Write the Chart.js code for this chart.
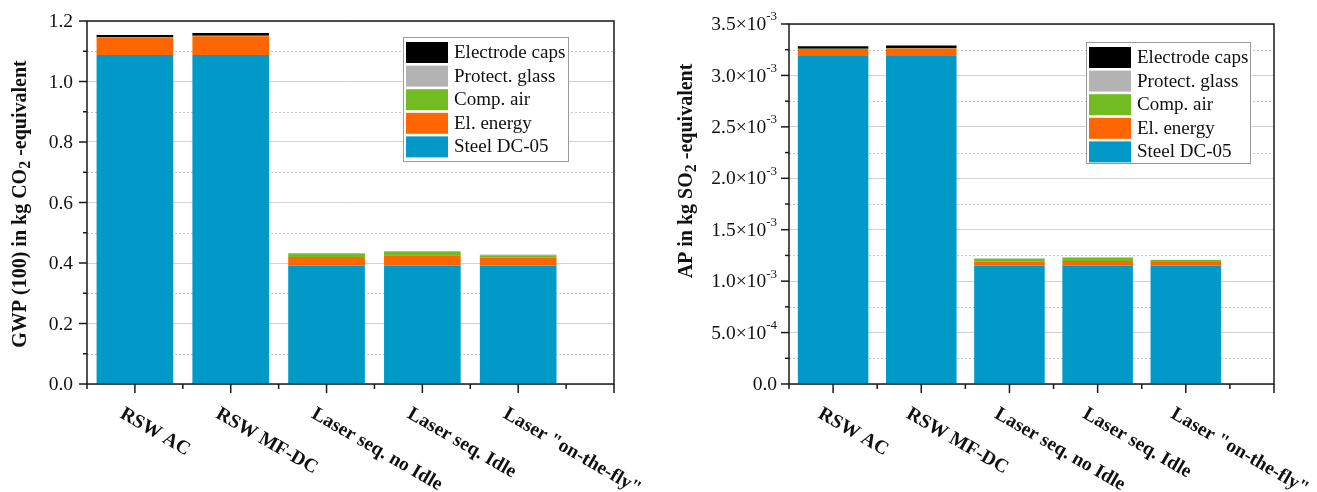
<!DOCTYPE html>
<html>
<head>
<meta charset="utf-8">
<script src="https://cdn.jsdelivr.net/npm/chart.js@4.4.1/dist/chart.umd.min.js"></script>
<style>
  html, body { margin: 0; padding: 0; background: #fff; }
  #wrap { position: relative; width: 1317px; height: 492px; overflow: hidden; }
  .box { position: absolute; top: 0; height: 492px; }
  #gwpBox { left: 0; width: 657px; }
  #apBox { left: 657px; width: 660px; }
</style>
</head>
<body>
<div id="wrap">
  <div class="box" id="gwpBox"><canvas id="gwpChart"></canvas></div>
  <div class="box" id="apBox"><canvas id="apChart"></canvas></div>
</div>
<script>
// --- data ---
const categories = ['RSW AC', 'RSW MF-DC', 'Laser seq. no Idle', 'Laser seq. Idle', 'Laser "on-the-fly"'];
const seriesLabels = ['Steel DC-05', 'El. energy', 'Comp. air', 'Protect. glass', 'Electrode caps'];
const seriesColors = ['#0099C8', '#FF6600', '#72BC22', '#B3B3B3', '#000000'];

// GWP (100) in kg CO2-equivalent
const gwpSteel  = [1.088, 1.088, 0.391, 0.391, 0.391];
const gwpEnergy = [0.057, 0.062, 0.029, 0.035, 0.026];
const gwpAir    = [0.001, 0.001, 0.011, 0.012, 0.009];
const gwpGlass  = [0, 0, 0.002, 0.002, 0.002];
const gwpCaps   = [0.008, 0.009, 0, 0, 0];
const gwpTicks = [0, 0.2, 0.4, 0.6, 0.8, 1.0, 1.2];
const gwpTickLabels = ['0.0', '0.2', '0.4', '0.6', '0.8', '1.0', '1.2'];

// AP in kg SO2-equivalent
const apSteel  = [3.19e-3, 3.19e-3, 1.15e-3, 1.15e-3, 1.15e-3];
const apEnergy = [0.068e-3, 0.073e-3, 0.038e-3, 0.045e-3, 0.035e-3];
const apAir    = [0.001e-3, 0.001e-3, 0.030e-3, 0.033e-3, 0.020e-3];
const apGlass  = [0, 0, 0.004e-3, 0.004e-3, 0.004e-3];
const apCaps   = [0.024e-3, 0.028e-3, 0, 0, 0];
const apTicks = [0, 0.5e-3, 1.0e-3, 1.5e-3, 2.0e-3, 2.5e-3, 3.0e-3, 3.5e-3];
const apTickBase = ['0.0', '5.0×10', '1.0×10', '1.5×10', '2.0×10', '2.5×10', '3.0×10', '3.5×10'];
const apTickExp  = ['', '-4', '-3', '-3', '-3', '-3', '-3', '-3'];

const SERIF = '"Liberation Serif", "Times New Roman", serif';

// draws frame, tick marks, tick labels, x labels, axis title and the boxed legend
const panelPlugin = {
    id: 'panel',
    beforeDatasetsDraw(chart, args, opts) {
        const { ctx, chartArea: a, scales: { y } } = chart;
        ctx.save();
        ctx.strokeStyle = '#c4c4c4';
        ctx.lineWidth = 1;
        ctx.setLineDash([2, 2]);
        minorValues(opts.majors).forEach(v => {
            const py = Math.round(y.getPixelForValue(v)) + 0.5;
            ctx.beginPath(); ctx.moveTo(a.left, py); ctx.lineTo(a.right, py); ctx.stroke();
        });
        ctx.restore();
    },
    afterDraw(chart, args, opts) {
        const { ctx, chartArea: a, scales: { x, y } } = chart;
        ctx.save();

        // tick marks
        ctx.strokeStyle = '#1a1a1a';
        ctx.lineWidth = 1.5;
        opts.majors.forEach(v => tickY(ctx, a.left, y.getPixelForValue(v), 8));
        minorValues(opts.majors).forEach(v => tickY(ctx, a.left, y.getPixelForValue(v), 4));
        for (let i = 0; i <= categories.length; i++) {
            tickX(ctx, x.getPixelForValue(i), a.bottom, 9);
            tickX(ctx, x.getPixelForValue(i - 0.5), a.bottom, 5);
        }

        // frame
        ctx.strokeRect(a.left, a.top, a.right - a.left, a.bottom - a.top);

        // y tick labels
        ctx.fillStyle = '#111';
        ctx.textBaseline = 'middle';
        opts.majors.forEach((v, i) => {
            const py = y.getPixelForValue(v);
            const right = a.left - opts.labelGap;
            const exp = opts.exps ? opts.exps[i] : '';
            let w = 0;
            if (exp) {
                ctx.font = '13px ' + SERIF;
                ctx.textAlign = 'right';
                ctx.fillText(exp, right, py - 7);
                w = ctx.measureText(exp).width;
            }
            ctx.font = '19.5px ' + SERIF;
            ctx.textAlign = 'right';
            ctx.fillText(opts.labels[i], right - w, py + 1);
        });

        // rotated category labels
        ctx.font = 'bold 19.5px ' + SERIF;
        ctx.textAlign = 'left';
        ctx.textBaseline = 'alphabetic';
        categories.forEach((c, i) => {
            const px = x.getPixelForValue(i);
            ctx.save();
            ctx.translate(px - 16, a.bottom + 33);
            ctx.rotate(30 * Math.PI / 180);
            ctx.fillText(c, 0, 0);
            ctx.restore();
        });

        // y axis title with subscript
        drawTitle(ctx, opts.title);

        // legend box
        const lg = opts.legend;
        ctx.fillStyle = '#fff';
        ctx.fillRect(lg.x, lg.y, lg.w, lg.h);
        ctx.strokeStyle = '#9a9a9a';
        ctx.lineWidth = 1;
        ctx.strokeRect(lg.x + 0.5, lg.y + 0.5, lg.w, lg.h);
        const sets = chart.data.datasets.slice().reverse();
        ctx.font = '19px ' + SERIF;
        ctx.textBaseline = 'middle';
        ctx.textAlign = 'left';
        sets.forEach((ds, k) => {
            const top = lg.y + 5 + k * 23.6;
            ctx.fillStyle = ds.backgroundColor;
            ctx.fillRect(lg.x + 3, top, 42, 21);
            ctx.fillStyle = '#111';
            ctx.fillText(ds.label, lg.x + 51, top + 11);
        });

        ctx.restore();
    }
};

function minorValues(majors) {
    const out = [];
    for (let i = 1; i < majors.length; i++) out.push((majors[i - 1] + majors[i]) / 2);
    return out;
}

function tickY(ctx, x0, py, len) {
    ctx.beginPath(); ctx.moveTo(x0 - len, py); ctx.lineTo(x0, py); ctx.stroke();
}

function tickX(ctx, px, y0, len) {
    ctx.beginPath(); ctx.moveTo(px, y0); ctx.lineTo(px, y0 + len); ctx.stroke();
}

function drawTitle(ctx, t) {
    ctx.save();
    ctx.translate(t.x, t.y);
    ctx.rotate(-Math.PI / 2);
    ctx.fillStyle = '#111';
    ctx.textAlign = 'left';
    ctx.textBaseline = 'middle';
    const big = 'bold 20px ' + SERIF, small = 'bold 16px ' + SERIF;
    let total = 0;
    t.parts.forEach(p => { ctx.font = p.sub ? small : big; total += ctx.measureText(p.text).width; });
    let cx = -total / 2;
    t.parts.forEach(p => {
        ctx.font = p.sub ? small : big;
        ctx.fillText(p.text, cx, p.sub ? 5 : 0);
        cx += ctx.measureText(p.text).width;
    });
    ctx.restore();
}

function buildDatasets(series) {
    return series.map((vals, k) => ({
        label: seriesLabels[k],
        data: vals.map((v, i) => ({ x: i, y: v })),
        backgroundColor: seriesColors[k],
        borderWidth: 0,
        categoryPercentage: 1,
        barPercentage: 0.8
    }));
}

function createPanel(canvasId, series, yMax, majors, panelOpts, axisWidth, padTop) {
    const ctx = document.getElementById(canvasId);
    return new Chart(ctx, {
        type: 'bar',
        data: { datasets: buildDatasets(series) },
        options: {
            responsive: true,
            maintainAspectRatio: false,
            animation: false,
            devicePixelRatio: 1,
            layout: { padding: { left: 0, top: padTop, right: 43, bottom: 0 } },
            scales: {
                x: {
                    type: 'linear',
                    stacked: true,
                    offset: false,
                    min: -0.5,
                    max: categories.length,
                    afterBuildTicks: s => { s.ticks = categories.map((c, i) => ({ value: i })); },
                    afterFit: s => { s.height = 108; },
                    ticks: { display: false },
                    grid: { display: false },
                    border: { display: false }
                },
                y: {
                    stacked: true,
                    min: 0,
                    max: yMax,
                    afterBuildTicks: s => { s.ticks = majors.map(v => ({ value: v })); },
                    afterFit: s => { s.width = axisWidth; },
                    ticks: { display: false },
                    grid: { color: '#d2d2d2', lineWidth: 1, drawTicks: false },
                    border: { display: false }
                }
            },
            plugins: {
                legend: { display: false },
                tooltip: { enabled: false },
                panel: panelOpts
            }
        },
        plugins: [panelPlugin]
    });
}

var gwpChartInstance = createPanel('gwpChart',
    [gwpSteel, gwpEnergy, gwpAir, gwpGlass, gwpCaps], 1.2, gwpTicks, {
        majors: gwpTicks,
        labels: gwpTickLabels,
        labelGap: 14,
        title: { x: 21, y: 204, parts: [
            { text: 'GWP (100) in kg CO' }, { text: '2', sub: true }, { text: ' -equivalent' }] },
        legend: { x: 403, y: 37, w: 165, h: 124 }
    }, 87, 21);

var apChartInstance = createPanel('apChart',
    [apSteel, apEnergy, apAir, apGlass, apCaps], 3.5e-3, apTicks, {
        majors: apTicks,
        labels: apTickBase,
        exps: apTickExp,
        labelGap: 12,
        title: { x: 30, y: 171, parts: [
            { text: 'AP in kg SO' }, { text: '2', sub: true }, { text: ' -equivalent' }] },
        legend: { x: 429, y: 42, w: 164, h: 121 }
    }, 132, 24);
</script>
</body>
</html>
